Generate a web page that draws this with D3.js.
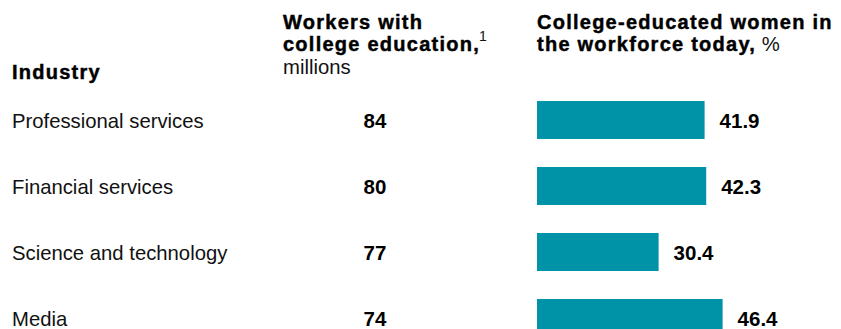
<!DOCTYPE html>
<html>
<head>
<meta charset="utf-8">
<script src="https://cdn.jsdelivr.net/npm/d3@7"></script>
<style>
  body { margin: 0; background: #fff; }
  svg { display: block; font-family: "Liberation Sans", Arial, Helvetica, sans-serif; }
  .head { font-weight: bold; font-size: 20px; letter-spacing: 1.25px; fill: #000; stroke: #000; stroke-width: 0.45px; }
  .reg { font-weight: normal; font-size: 20.3px; letter-spacing: 0; fill: #111; stroke: none; }
  .num { font-weight: bold; font-size: 20.5px; fill: #000; }
</style>
</head>
<body>
<svg width="841" height="329"></svg>
<script>
// data
const industries = ["Professional services", "Financial services", "Science and technology", "Media"];
const workers = [84, 80, 77, 74];          // millions
const womenShare = [41.9, 42.3, 30.4, 46.4]; // %

const svg = d3.select("svg");
const barColor = "#0093a8";

const y = d3.scaleBand()
    .domain(industries)
    .range([87, 351])
    .paddingInner(0.424)
    .paddingOuter(0.212);

const x = d3.scaleLinear()
    .domain([0, 50])
    .range([537, 737]);

const rows = industries.map((name, i) => ({ name, workers: workers[i], share: womenShare[i] }));

// --- HEADERS ---
svg.append("text").attr("class", "head").attr("x", 12).attr("y", 79).text("Industry");

const h2 = svg.append("text").attr("class", "head").attr("x", 283);
h2.append("tspan").attr("x", 283).attr("y", 29).text("Workers with");
h2.append("tspan").attr("x", 283).attr("y", 51).text("college education,");
h2.append("tspan").attr("dx", -1).attr("dy", -10).attr("class", "reg").style("font-size", "14px").text("1");
h2.append("tspan").attr("x", 283).attr("y", 74).attr("class", "reg").text("millions");

const h3 = svg.append("text").attr("class", "head").attr("x", 537);
h3.append("tspan").attr("x", 537).attr("y", 29).text("College-educated women in");
h3.append("tspan").attr("x", 537).attr("y", 51).text("the workforce today,");
h3.append("tspan").attr("class", "reg").text(" %");

// --- ROWS ---
const row = svg.selectAll("g.row")
    .data(rows)
    .enter()
    .append("g")
    .attr("class", "row");

row.append("text")
    .attr("class", "reg")
    .attr("x", 12)
    .attr("y", d => y(d.name) + y.bandwidth() / 2 + 8)
    .text(d => d.name);

row.append("text")
    .attr("class", "num")
    .attr("x", 375)
    .attr("text-anchor", "middle")
    .attr("y", d => y(d.name) + y.bandwidth() / 2 + 8)
    .text(d => d.workers);

row.append("rect")
    .attr("x", x(0))
    .attr("y", d => y(d.name))
    .attr("width", d => x(d.share) - x(0))
    .attr("height", y.bandwidth())
    .attr("fill", barColor);

row.append("text")
    .attr("class", "num")
    .attr("x", d => x(d.share) + 15)
    .attr("y", d => y(d.name) + y.bandwidth() / 2 + 8)
    .text(d => d.share.toFixed(1));
</script>
</body>
</html>
